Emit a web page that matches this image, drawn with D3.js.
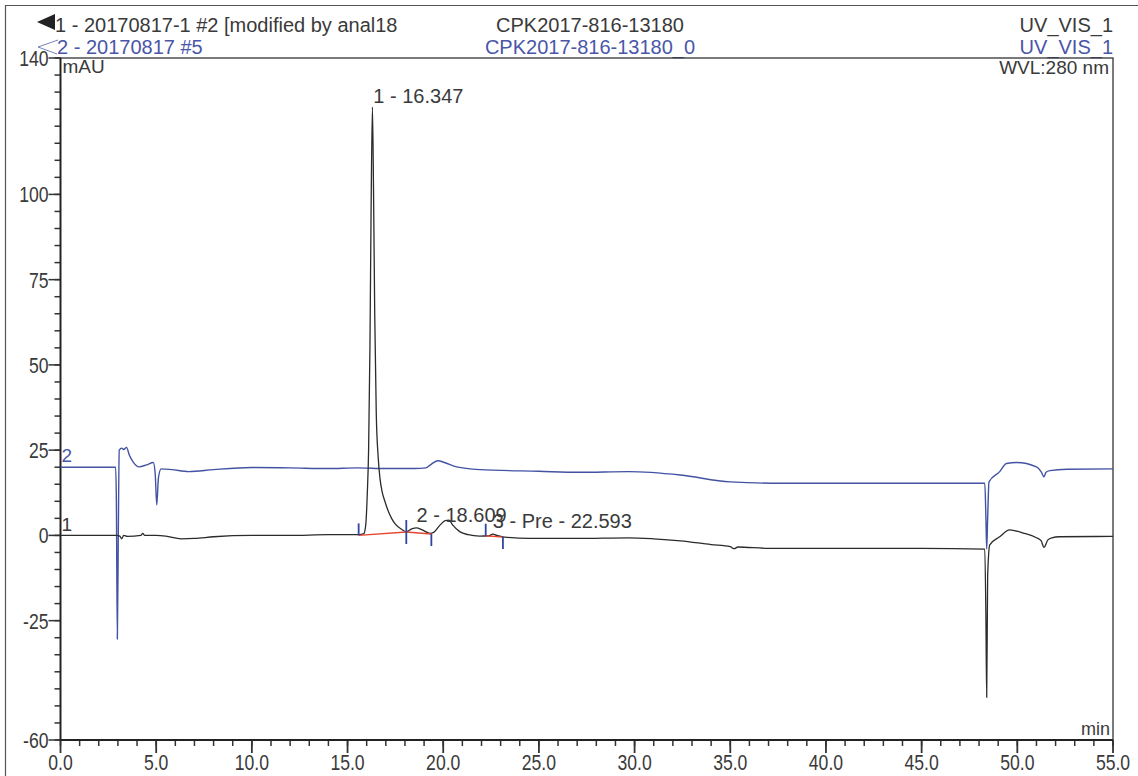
<!DOCTYPE html>
<html>
<head>
<meta charset="utf-8">
<script src="https://cdn.jsdelivr.net/npm/d3@7"></script>
<style>
  body { margin: 0; background: #fff; }
  svg { display: block; font-family: "Liberation Sans", Arial, sans-serif; }
</style>
</head>
<body>
<svg id="chart" width="1138" height="776"></svg>
<script>
// ── Data ─────────────────────────────────────────────────────────────────────

// trace 1 : 20170817-1 #2 (black)
const trace1Time = [0, 2.9, 3.1, 3.2, 3.3, 3.5, 4.2, 4.3, 4.4, 5.0, 5.5, 6.3, 7.0, 8.0, 10.0, 12.0, 14.0, 15.6,
  15.85, 15.95, 16.03, 16.1, 16.17, 16.23, 16.3, 16.36, 16.42, 16.5, 16.6, 16.7, 16.8, 16.95, 17.1, 17.3, 17.5, 17.8,
  18.07, 18.35, 18.6, 18.9, 19.3, 19.5, 19.8, 20.1, 20.3, 20.5, 20.86, 21.3, 21.9, 22.4, 22.6, 22.8, 23.2, 24.5,
  27.0, 29.7, 31.0, 32.4, 34.0, 35.0, 35.2, 35.4, 37.0, 45.0, 48.3, 48.36, 48.4, 48.45, 48.56, 49.08, 49.6, 50.3,
  51.0, 51.25, 51.39, 51.6, 51.8, 52.2, 55.0];
const trace1Value = [0, 0, -0.2, -1, 0, -0.3, 0, 0.6, 0, 0, -0.2, -1, -0.9, -0.4, 0, 0, 0.2, 0.2,
  0.5, 3, 12, 25, 55, 95, 125.6, 100, 65, 36, 23, 16.5, 13, 10, 7.5, 5, 3.3, 1.9,
  1.1, 1.9, 2.2, 1.6, 0.6, 0.9, 2.8, 4.3, 4.5, 3, 1.1, 0.2, -0.2, -0.1, 0.4, 0, -0.5, -0.9,
  -0.9, -0.7, -1, -1.6, -2.7, -3.3, -3.9, -3.4, -3.8, -3.8, -4, -25, -47.5, -12, -2.8, -0.4, 1.6, 0.7,
  -0.7, -1.6, -3.5, -1.3, -0.7, -0.4, -0.3];

// trace 2 : 20170817 #5 (blue)
const trace2Time = [0, 2.88, 2.92, 2.97, 3.02, 3.07, 3.2, 3.3, 3.45, 3.6, 3.8, 4.1, 4.5, 4.85, 4.95, 5.03, 5.12, 5.26,
  5.8, 6.7, 8.0, 10.0, 12.0, 14.0, 15.5, 17.0, 18.5, 19.1, 19.4, 19.72, 20.1, 20.7, 21.9, 25.0, 27.1, 29.7, 32.4,
  35.0, 37.6, 48.3, 48.36, 48.4, 48.45, 48.52, 49.08, 49.43, 49.96, 51.0, 51.25, 51.39, 51.5, 51.7, 52.6, 55.0];
const trace2Value = [20, 20, 10, -30.4, 0, 25, 25.6, 25.2, 25.8, 23.5, 21.5, 20.1, 20.7, 21.4, 18, 8.9, 17, 19.5,
  19.3, 18.7, 19.3, 19.9, 19.8, 19.6, 19.8, 19.6, 19.6, 19.8, 21, 21.9, 21.3, 20.1, 19.3, 18.8, 18.5, 18.7, 17.7,
  15.7, 15.3, 15.3, 5, -4, 5, 15.7, 18.7, 21.1, 21.4, 20.1, 18.6, 17.2, 18.5, 19.0, 19.4, 19.5];

// integrated peaks of trace 1
const peakNames = ["1 - 16.347", "2 - 18.609", "3 - Pre - 22.593"];
const peakTimes = [16.347, 18.609, 22.593];
const peakStart = [15.58, 18.07, 22.22];
const peakEnd = [18.07, 19.38, 23.12];
const peakStartValue = [0.0, 1.0, -0.1];
const peakEndValue = [1.0, 0.4, -0.5];

// axes
const xMajorTicks = [0, 5, 10, 15, 20, 25, 30, 35, 40, 45, 50, 55];
const xMinorTicks = d3.range(0, 56, 1);
const yMajorTicks = [140, 100, 75, 50, 25, 0, -25, -60];
const yMinorTicks = d3.range(-60, 141, 5);

// ── Layout ───────────────────────────────────────────────────────────────────

const BLACK = "#2b2b2b";
const BLUE = "#4352a3";
const TEXT = "#3a3a3a";
const BLUE_TEXT = "#4a56a8";

const svg = d3.select("#chart");
const x = d3.scaleLinear([0, 55], [60.5, 1113]);
const y = d3.scaleLinear([-60, 140], [740, 58]);

svg.append("rect").attr("width", 1138).attr("height", 776).attr("fill", "#fff");

// outer frame
svg.append("path")
  .attr("d", "M5.5,776 V5.5 H1138")
  .attr("fill", "none").attr("stroke", "#555").attr("stroke-width", 1.2);

// ── Header ───────────────────────────────────────────────────────────────────

svg.append("path").attr("d", "M37,22 L55,14 L55,30 Z").attr("fill", "#222");
svg.append("path")
  .attr("d", "M58,40 L38,47 L57,54")
  .attr("fill", "none").attr("stroke", "#6a74b0").attr("stroke-width", 0.9);

const header = [
  { t: "1 - 20170817-1 #2 [modified by anal18", x: 55, y: 32, a: "start", c: TEXT },
  { t: "2 - 20170817 #5", x: 57, y: 54, a: "start", c: BLUE_TEXT },
  { t: "CPK2017-816-13180", x: 590, y: 32, a: "middle", c: TEXT },
  { t: "CPK2017-816-13180_0", x: 590, y: 54, a: "middle", c: BLUE_TEXT },
  { t: "UV_VIS_1", x: 1113, y: 32, a: "end", c: TEXT },
  { t: "UV_VIS_1", x: 1113, y: 54, a: "end", c: BLUE_TEXT },
];
svg.append("g").selectAll("text").data(header).join("text")
  .attr("x", (d) => d.x).attr("y", (d) => d.y)
  .attr("text-anchor", (d) => d.a).attr("fill", (d) => d.c)
  .attr("font-size", 20).text((d) => d.t);

// ── Axes ─────────────────────────────────────────────────────────────────────

// plot frame
svg.append("rect")
  .attr("x", x(0)).attr("y", y(140))
  .attr("width", x(55) - x(0)).attr("height", y(-60) - y(140))
  .attr("fill", "none").attr("stroke", "#333").attr("stroke-width", 1.3);

const SQ = 0.8; // condensed tick font
const TICK_FONT = 22;

const yAxis = svg.append("g").attr("transform", `translate(${x(0)},0)`);
yAxis.selectAll("line.minor").data(yMinorTicks).join("line")
  .attr("x1", -6).attr("x2", 0).attr("y1", (d) => y(d)).attr("y2", (d) => y(d))
  .attr("stroke", "#333").attr("stroke-width", 1.5);
yAxis.selectAll("line.major").data(yMajorTicks).join("line")
  .attr("x1", -12).attr("x2", 0).attr("y1", (d) => y(d)).attr("y2", (d) => y(d))
  .attr("stroke", "#333").attr("stroke-width", 1.5);
yAxis.selectAll("text").data(yMajorTicks).join("text")
  .attr("transform", `scale(${SQ},1)`)
  .attr("x", -12 / SQ).attr("y", (d) => y(d) + 8)
  .attr("text-anchor", "end").attr("font-size", TICK_FONT).attr("fill", TEXT)
  .text((d) => d);
yAxis.append("line").attr("y1", y(140)).attr("y2", y(-60)).attr("stroke", "#222").attr("stroke-width", 1.8);

const xAxis = svg.append("g").attr("transform", `translate(0,${y(-60)})`);
xAxis.selectAll("line.minor").data(xMinorTicks).join("line")
  .attr("x1", (d) => x(d)).attr("x2", (d) => x(d)).attr("y1", 0).attr("y2", 6)
  .attr("stroke", "#333").attr("stroke-width", 1.5);
xAxis.selectAll("line.major").data(xMajorTicks).join("line")
  .attr("x1", (d) => x(d)).attr("x2", (d) => x(d)).attr("y1", 0).attr("y2", 13)
  .attr("stroke", "#333").attr("stroke-width", 1.8);
xAxis.selectAll("text").data(xMajorTicks).join("text")
  .attr("transform", `scale(${SQ},1)`)
  .attr("x", (d) => x(d) / SQ).attr("y", 30)
  .attr("text-anchor", "middle").attr("font-size", TICK_FONT).attr("fill", TEXT)
  .text((d) => d.toFixed(1));
xAxis.append("line").attr("x1", x(0)).attr("x2", x(55)).attr("stroke", "#222").attr("stroke-width", 1.8);

// unit labels
svg.append("text").attr("x", x(0) + 2).attr("y", 73).attr("font-size", 19).attr("fill", TEXT).text("mAU");
svg.append("text").attr("x", x(55) - 4).attr("y", 74).attr("text-anchor", "end")
  .attr("font-size", 19).attr("fill", TEXT).text("WVL:280 nm");
svg.append("text").attr("x", x(55) - 3).attr("y", 735).attr("text-anchor", "end")
  .attr("font-size", 18).attr("fill", TEXT).text("min");

// ── Traces ───────────────────────────────────────────────────────────────────

const line = d3.line().x((d) => x(d[0])).y((d) => y(d[1])).curve(d3.curveMonotoneX);
const trace1 = d3.zip(trace1Time, trace1Value);
const trace2 = d3.zip(trace2Time, trace2Value);

function valueAt(times, values, t) {
  const i = d3.bisectLeft(times, t);
  if (i <= 0) return values[0];
  if (i >= times.length) return values[values.length - 1];
  const f = (t - times[i - 1]) / (times[i] - times[i - 1]);
  return values[i - 1] + f * (values[i] - values[i - 1]);
}

svg.append("path").datum(trace2).attr("d", line)
  .attr("fill", "none").attr("stroke", BLUE).attr("stroke-width", 1.4);
svg.append("path").datum(trace1).attr("d", line)
  .attr("fill", "none").attr("stroke", BLACK).attr("stroke-width", 1.3);

// trace numbers
svg.append("text").attr("x", x(0) + 1).attr("y", y(trace2Value[0]) - 5)
  .attr("font-size", 19).attr("fill", BLUE_TEXT).text("2");
svg.append("text").attr("x", x(0) + 1).attr("y", y(trace1Value[0]) - 4)
  .attr("font-size", 19).attr("fill", TEXT).text("1");

// ── Peak integration marks ───────────────────────────────────────────────────

const peaks = peakNames.map((name, i) => ({
  name,
  rt: peakTimes[i],
  s: peakStart[i], e: peakEnd[i],
  sv: peakStartValue[i], ev: peakEndValue[i],
}));

svg.append("g").selectAll("line").data(peaks).join("line")
  .attr("x1", (d) => x(d.s)).attr("y1", (d) => y(d.sv))
  .attr("x2", (d) => x(d.e)).attr("y2", (d) => y(d.ev))
  .attr("stroke", "#e5452e").attr("stroke-width", 1.4);

const marks = svg.append("g").attr("stroke", "#2e46a0").attr("stroke-width", 1.8);
marks.selectAll("line.s").data(peaks).join("line")
  .attr("x1", (d) => x(d.s)).attr("x2", (d) => x(d.s))
  .attr("y1", (d) => y(d.sv)).attr("y2", (d) => y(d.sv) - 12);
marks.selectAll("line.e").data(peaks).join("line")
  .attr("x1", (d) => x(d.e)).attr("x2", (d) => x(d.e))
  .attr("y1", (d) => y(d.ev)).attr("y2", (d) => y(d.ev) + 12);

svg.append("g").selectAll("text").data(peaks).join("text")
  .attr("x", (d) => x(d.rt))
  .attr("y", (d, i) => i === 0 ? y(d3.max(trace1Value)) - 4 : y(valueAt(trace1Time, trace1Value, d.rt)) - 6)
  .attr("font-size", 20).attr("fill", TEXT)
  .text((d) => d.name);
</script>
</body>
</html>
